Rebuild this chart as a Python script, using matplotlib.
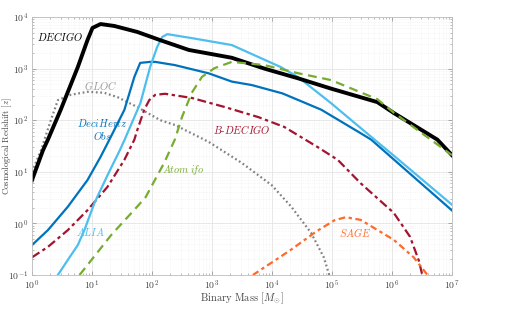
import numpy as np
import matplotlib
matplotlib.use("Agg")
import matplotlib.pyplot as plt

# curves (binary mass in M_sun, redshift z)
decigo_m = [1, 1.52, 1.84, 3.0, 5.8, 8.4, 10.2, 13.9, 23.6, 57, 137, 410, 2140, 7470, 27000, 96000, 5.7e5, 1.07e6, 5.7e6, 1e7]
decigo_z = [6.9, 26, 42, 158, 1070, 3560, 6150, 7300, 6700, 5130, 3560, 2300, 1620, 1000, 650, 410, 224, 138, 42, 21]

deci_m = [1, 1.84, 3.95, 8.4, 13.9, 19.5, 34.6, 50.8, 63.5, 93, 113, 240, 880, 2140, 4600, 15000, 66000, 3e5, 4.5e5, 1e6, 1e7]
deci_z = [0.38, 0.74, 2.1, 6.9, 19.5, 42, 158, 690, 1290, 1350, 1350, 1170, 810, 560, 480, 330, 160, 56, 42, 18.6, 1.78]

alia_m = [2.7, 4.0, 5.8, 7.5, 11, 19, 29, 35, 64, 93, 122, 148, 180, 460, 2140, 14000, 27000, 96000, 2.1e5, 6e5, 1e6, 1e7]
alia_z = [0.1, 0.2, 0.38, 0.75, 2.5, 9.6, 26, 42, 214, 1070, 2630, 4100, 4650, 3900, 2860, 1070, 690, 215, 100, 36, 22, 2.3]

bdecigo_m = [1, 1.84, 3.95, 8.4, 18.1, 34.6, 50.8, 57, 74, 90, 113, 165, 460, 1630, 5900, 16000, 58000, 1.25e5, 3e5, 1.07e6, 2e6, 2.8e6, 3.2e6]
bdecigo_z = [0.22, 0.35, 0.74, 1.8, 5.1, 17, 42, 65, 158, 245, 310, 325, 270, 180, 115, 74, 30, 17, 6.0, 1.6, 0.55, 0.19, 0.1]

atom_m = [6.2, 21, 50, 78, 160, 240, 316, 460, 680, 1100, 2140, 7470, 27000, 96000, 5.7e5, 1.07e6, 1e7]
atom_z = [0.1, 0.6, 1.8, 3.2, 15, 42, 115, 340, 690, 1020, 1350, 1170, 815, 600, 255, 140, 21]

gloc_m = [1, 1.41, 2.06, 2.7, 4.4, 8.4, 16, 26.5, 57, 137, 240, 880, 3100, 9900, 21000, 45000, 73000, 90000]
gloc_z = [10, 26, 100, 245, 310, 355, 340, 280, 180, 100, 81, 38, 15, 5.5, 2.1, 0.65, 0.22, 0.1]

sage_m = [4800, 20000, 55000, 1.1e5, 1.7e5, 3e5, 1.07e6, 2.3e6, 3.9e6]
sage_z = [0.1, 0.3, 0.7, 1.15, 1.32, 1.17, 0.48, 0.22, 0.1]

plt.rcParams['font.family'] = 'serif'
plt.rcParams['font.serif'] = ['cmr10']
plt.rcParams['mathtext.fontset'] = 'cm'
plt.rcParams['axes.formatter.use_mathtext'] = True
plt.rcParams['axes.unicode_minus'] = False

fig = plt.figure(figsize=(5.08, 3.15), dpi=100)
ax = fig.add_axes([32 / 508, 1 - 275 / 315, 420 / 508, 258 / 315])

ax.plot(gloc_m, gloc_z, color='#808080', lw=1.6, dashes=(0.8, 1.2))
ax.plot(deci_m, deci_z, color='#0072BD', lw=1.6)
ax.plot(bdecigo_m, bdecigo_z, color='#A2142F', lw=1.6, dashes=(4, 1.6, 1.5, 1.6))
ax.plot(alia_m, alia_z, color='#4DBEEE', lw=1.6)
ax.plot(sage_m, sage_z, color='#FF6929', lw=1.6, dashes=(3, 1.6, 1.5, 1.6))
ax.plot(decigo_m, decigo_z, color='black', lw=2.8)
ax.plot(atom_m, atom_z, color='#77AC30', lw=1.6, dashes=(4, 2.5))

ax.set_xscale('log')
ax.set_yscale('log')
ax.set_xlim(1, 1e7)
ax.set_ylim(0.1, 1e4)
ax.set_xticks([10.0**k for k in range(8)])
ax.set_yticks([10.0**k for k in range(-1, 5)])

ax.grid(True, which='major', color='#e4e4e4', lw=0.6)
ax.grid(True, which='minor', color='#eeeeee', lw=0.5, ls=':')
ax.set_axisbelow(True)
ax.tick_params(which='both', direction='in', top=True, right=True, colors='#8a8a8a',
               labelcolor='#444444', labelsize=7)
ax.tick_params(which='major', length=3, width=0.5, pad=2.5)
ax.tick_params(which='minor', length=1.6, width=0.4)
for s in ax.spines.values():
    s.set_color('#bdbdbd')
    s.set_linewidth(0.6)

ax.set_xlabel(r'Binary Mass [$M_{\odot}$]', fontsize=7.5, color='#444444', labelpad=-1)
ax.set_ylabel(r'Cosmological Redshift [$z$]', fontsize=6.3, color='#444444')
ax.yaxis.set_label_coords(-0.042, 0.5)

lab = dict(fontsize=7.5, ha='center', va='center')
ax.text(2.9, 4100, r'$\mathit{DECIGO}$', color='black', **lab)
ax.text(13.9, 480, r'$\mathit{GLOC}$', color='#999999', **lab)
ax.text(15, 65, r'$\mathit{DeciHertz}$' + '\n' + r'$\mathit{Obs}$', color='#0072BD',
        linespacing=1.1, **lab)
ax.text(3100, 65, r'$\mathit{B}$-$\mathit{DECIGO}$', color='#A2142F', **lab)
ax.text(330, 11, r'$\mathit{Atom\ i\!fo}$', color='#77AC30', **lab)
ax.text(9.5, 0.68, r'$\mathit{ALIA}$', color='#4DBEEE', **lab)
ax.text(2.4e5, 0.68, r'$\mathit{SAGE}$', color='#FF6929', **lab)

fig.savefig('out.png', dpi=100)
